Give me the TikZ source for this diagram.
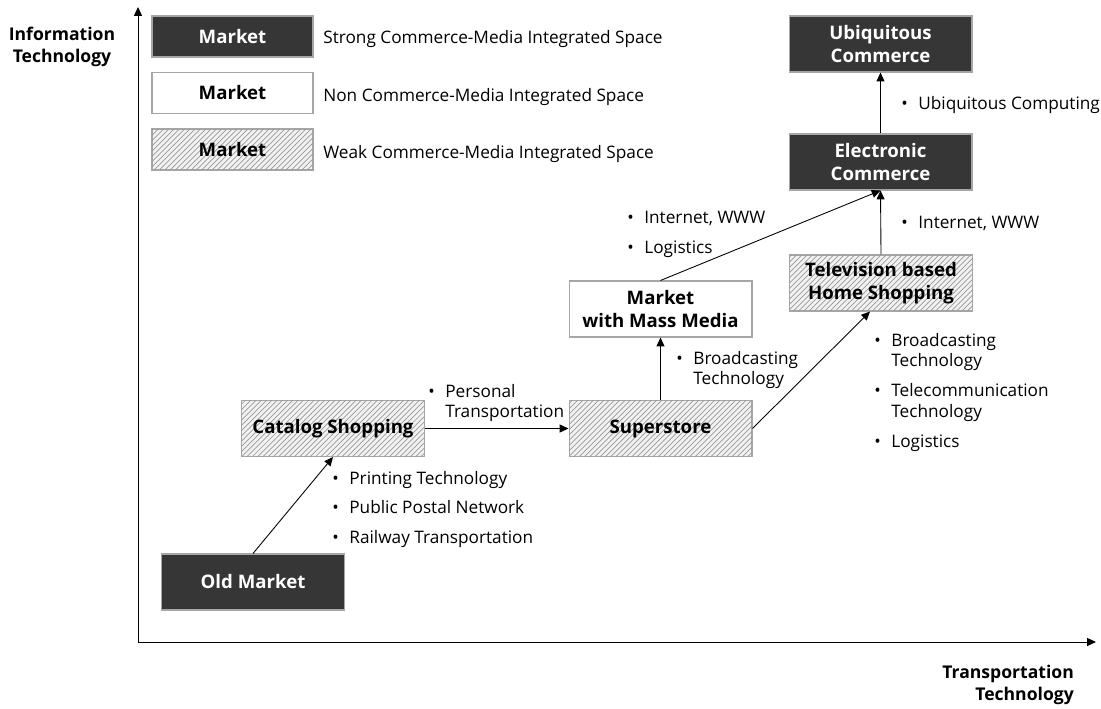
\documentclass[tikz,border=0pt]{standalone}
\usepackage{fontspec}
\setmainfont{Open Sans}
\usepackage{tikz}
\usetikzlibrary{arrows.meta,patterns}
\definecolor{darkbox}{HTML}{363636}
\definecolor{hatchbg}{HTML}{F2F2F2}

\tikzset{
  box/.style={draw=gray!70,line width=0.6pt,minimum width=3.66cm,minimum height=1.12cm,
    align=center,font=\fontsize{10.6}{13}\selectfont\bfseries},
  strong/.style={box,fill=darkbox,text=white},
  none/.style={box,fill=white},
  weak/.style={box,fill=hatchbg,postaction={pattern=north east lines,pattern color=gray!80}},
  legend/.style={minimum width=3.22cm,minimum height=0.82cm},
  tech/.style={anchor=base west,inner sep=0pt,font=\fontsize{9.8}{11.9}\selectfont},
  link/.style={-{Triangle[length=5pt,width=4.5pt]},line width=0.5pt}
}
\newcommand{\techlist}[1]{\begin{tabular}[t]{@{}l@{\hspace{6pt}}l@{}}#1\end{tabular}}

\begin{document}
\begin{tikzpicture}[x=0.02cm,y=-0.02cm]
\useasboundingbox (0,0) rectangle (1101,709);

% axes
\coordinate (O) at (138,642);
\coordinate (ytop) at (138,7);
\coordinate (xend) at (1096,642);
\draw[link] (O) -- (ytop);
\draw[link] (O) -- (xend);
\node[align=center,font=\fontsize{10}{12.4}\selectfont\bfseries] (ylab) at (62,47) {Information\\Technology};
\node[align=right,anchor=east,font=\fontsize{10}{12.4}\selectfont\bfseries] (xlab) at (1080,685) {Transportation\\Technology};

% legend
\node[strong,legend] (lgstrong) at (232.5,36.5) {Market};
\node[none,legend] (lgnone) at (232.5,93) {Market};
\node[weak,legend] (lgweak) at (232.5,149.5) {Market};
\node[tech,anchor=west] (lgstrongtxt) at (323,39) {Strong Commerce-Media Integrated Space};
\node[tech,anchor=west] (lgnonetxt) at (323,97) {Non Commerce-Media Integrated Space};
\node[tech,anchor=west] (lgweaktxt) at (323,154) {Weak Commerce-Media Integrated Space};

% markets
\node[strong] (old) at (253,582) {Old Market};
\node[weak] (catalog) at (333,428.5) {Catalog Shopping};
\node[weak] (superstore) at (660.5,428.5) {Superstore};
\node[none] (massmedia) at (660.5,309) {Market\\with Mass Media};
\node[weak] (tv) at (881,283) {Television based\\Home Shopping};
\node[strong] (ecommerce) at (880.5,162) {Electronic\\Commerce};
\node[strong] (ucommerce) at (880.5,44) {Ubiquitous\\Commerce};

% transitions
\draw[link] (old.north) -- (catalog.south);
\draw[link] (catalog.east) -- (superstore.west);
\draw[link] (superstore.north) -- (massmedia.south);
\draw[link] (superstore.east) -- ([xshift=-0.22cm]tv.south);
\draw[link] (massmedia.north) -- (ecommerce.south);
\draw[link] (tv.north) -- (ecommerce.south);
\draw[link] (ecommerce.north) -- (ucommerce.south);

% enabling technologies
\node[tech] (t1) at (332,484) {\techlist{\textbullet & Printing Technology\\[5.1pt]
  \textbullet & Public Postal Network\\[5.1pt] \textbullet & Railway Transportation}};
\node[tech] (t2) at (428,397) {\techlist{\textbullet & Personal\\ & Transportation}};
\node[tech] (t3) at (676,364) {\techlist{\textbullet & Broadcasting\\ & Technology}};
\node[tech] (t4) at (627,224) {\techlist{\textbullet & Internet, WWW\\[5.1pt] \textbullet & Logistics}};
\node[tech] (t5) at (874,346) {\techlist{\textbullet & Broadcasting\\ & Technology\\[5.1pt]
  \textbullet & Telecommunication\\ & Technology\\[5.1pt] \textbullet & Logistics}};
\node[tech] (t6) at (901,229) {\techlist{\textbullet & Internet, WWW}};
\node[tech] (t7) at (901,110) {\techlist{\textbullet & Ubiquitous Computing}};
\end{tikzpicture}
\end{document}
